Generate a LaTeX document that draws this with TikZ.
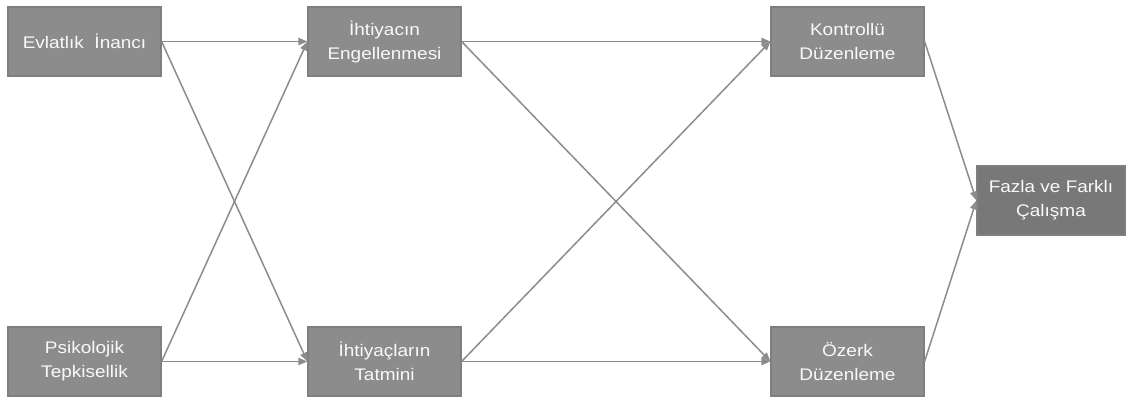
\documentclass[tikz,border=0pt]{standalone}
\usepackage{fontspec}
\setmainfont{Liberation Sans}[FakeStretch=1.13]
\usepackage{xcolor}
\usetikzlibrary{arrows.meta}

\definecolor{kutu}{HTML}{8C8C8C}
\definecolor{kenar}{HTML}{7F7F7F}
\definecolor{koyu}{HTML}{787878}
\definecolor{ok}{HTML}{8C8C8C}

\tikzset{
    kutu/.style={draw=kenar, fill=kutu, line width=0.6pt, text=white!95!gray,
        minimum width=76.5pt, minimum height=34.5pt, inner sep=1pt,
        align=center, font=\fontsize{8.4}{12}\selectfont},
    yol/.style={draw=ok, line width=0.75pt, -{Triangle[length=4.5pt,width=3.6pt]}}
}

\begin{document}
\begin{tikzpicture}[x=0.5pt, y=-0.5pt]
\useasboundingbox (0,0) rectangle (1132,399);
\node[kutu] (evlat) at (84.5,41.5) {Evlatlık \ İnancı};
\node[kutu] (psiko) at (84.5,361.5) {Psikolojik\\Tepkisellik};
\node[kutu] (engel) at (384.5,41.5) {İhtiyacın\\Engellenmesi};
\node[kutu] (tatmin) at (384.5,361.5) {İhtiyaçların\\Tatmini};
\node[kutu] (kontrol) at (847.5,41.5) {Kontrollü\\Düzenleme};
\node[kutu] (ozerk) at (847.5,361.5) {Özerk\\Düzenleme};
\node[kutu, fill=koyu, minimum width=74pt] (fazla) at (1051,200.5) {Fazla ve Farklı\\Çalışma};

\draw[yol] (evlat.east) -- (engel.west);
\draw[yol] (evlat.east) -- (tatmin.west);
\draw[yol] (psiko.east) -- (engel.west);
\draw[yol] (psiko.east) -- (tatmin.west);

\draw[yol] (engel.east) -- (kontrol.west);
\draw[yol] (engel.east) -- (ozerk.west);
\draw[yol] (tatmin.east) -- (kontrol.west);
\draw[yol] (tatmin.east) -- (ozerk.west);

\draw[yol] (kontrol.east) -- (fazla.west);
\draw[yol] (ozerk.east) -- (fazla.west);
\end{tikzpicture}
\end{document}
